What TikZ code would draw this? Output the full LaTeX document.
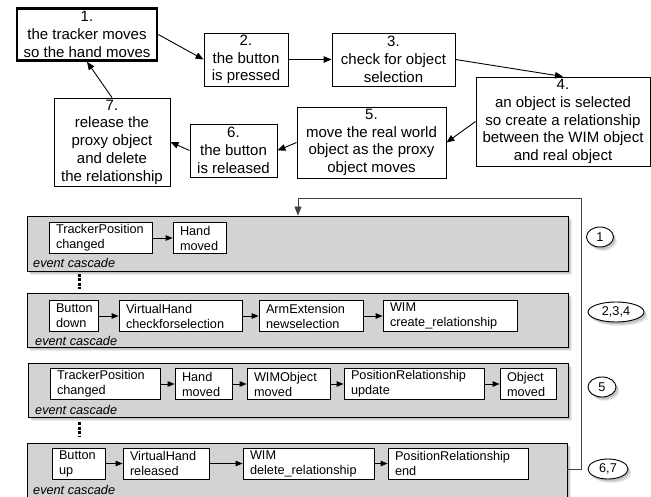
\documentclass[tikz,border=0pt]{standalone}
\usepackage{fontspec}
\setmainfont{Liberation Sans}
\usetikzlibrary{arrows.meta,shadows,shapes.geometric}
\definecolor{panelgray}{HTML}{D3D3D3}
\tikzset{
  arr/.style={-{Triangle[length=8pt,width=6.5pt]}, line width=0.9pt},
  sarr/.style={-{Triangle[length=7pt,width=5.5pt]}, line width=0.9pt},
  topbox/.style={draw, line width=0.9pt, fill=white, align=center, inner sep=0pt,
    font=\fontsize{15}{17.7}\selectfont},
  softshadow/.style={
    drop shadow={shadow xshift=3.5pt, shadow yshift=-4pt, opacity=0.15},
    drop shadow={shadow xshift=2.5pt, shadow yshift=-3pt, opacity=0.2},
    drop shadow={shadow xshift=1.5pt, shadow yshift=-2pt, opacity=0.25}},
  panel/.style={draw, line width=0.9pt, fill=panelgray, inner sep=0pt, softshadow},
  ibox/.style={draw, line width=0.8pt, fill=white, inner xsep=7pt, inner ysep=0pt,
    align=left, font=\fontsize{12.7}{15}\selectfont, minimum height=31pt},
  ecas/.style={anchor=west, inner sep=0pt, font=\fontsize{12.7}{15}\selectfont\itshape},
  lbl/.style={ellipse, draw, line width=0.9pt, fill=white, inner sep=0pt,
    minimum height=20pt, font=\fontsize{12.7}{15}\selectfont, softshadow},
  dotsline/.style={line width=3pt, dash pattern=on 3pt off 1.5pt},
  fb/.style={line width=0.9pt, draw=black!75}
}
\begin{document}
\begin{tikzpicture}[x=1pt,y=-1pt]
\clip (0,0) rectangle (651,497);
\fill[white] (0,0) rectangle (651,497);
% top cycle
\node[topbox, line width=2.6pt, minimum width=140pt, minimum height=52pt] (b1) at (87,34.5) {1.\\the tracker moves\\so the hand moves};
\node[topbox, minimum width=84pt, minimum height=53pt] (b2) at (246,59.5) {2.\\the button\\is pressed};
\node[topbox, minimum width=123pt, minimum height=53pt] (b3) at (393.5,59.5) {3.\\check for object\\selection};
\node[topbox, minimum width=174pt, minimum height=89pt] (b4) at (563,121.5) {4.\\an object is selected\\so create a relationship\\between the WIM object\\and real object};
\node[topbox, minimum width=149pt, minimum height=71pt] (b5) at (371.5,142.5) {5.\\move the real world\\object as the proxy\\object moves};
\node[topbox, minimum width=87pt, minimum height=53pt] (b6) at (233.5,150.5) {6.\\the button\\is released};
\node[topbox, minimum width=116pt, minimum height=88pt] (b7) at (112,142) {7.\\release the\\proxy object\\and delete\\the relationship};
\draw[arr] (b1.east) -- (b2.west);
\draw[arr] (b2.east) -- (b3.west);
\draw[arr] (b3.east) -- (b4.north);
\draw[arr] (b4.west) -- (b5.east);
\draw[arr] (b5.west) -- (b6.east);
\draw[arr] (b6.west) -- (b7.east);
\draw[arr] (b7.north) -- (b1.south);
% panels
\node[panel, minimum width=541pt, minimum height=55pt] (p1) at (297.5,243.5) {};
\node[panel, minimum width=541pt, minimum height=54pt] (p2) at (297.5,320) {};
\node[panel, minimum width=540pt, minimum height=54pt] (p3) at (298,390) {};
\node[panel, minimum width=540pt, minimum height=56pt] (p4) at (297,471) {};
% panel 1
\node[ibox, minimum width=103pt, text width=89pt] (a1) at (100.5,238) {TrackerPosition\\changed};
\node[ibox, minimum width=53pt, text width=39pt] (a2) at (199.5,238) {Hand\\moved};
\draw[sarr] (a1) -- (a2);
\node[ecas] (e1) at (33,263) {event cascade};
% dots
\draw[dotsline] (79,274) -- (79,289);
% panel 2
\node[ibox, minimum width=49pt, text width=35pt] (c1) at (73.5,316) {Button\\down};
\node[ibox, minimum width=123pt, text width=109pt] (c2) at (180.5,316) {VirtualHand\\checkforselection};
\node[ibox, minimum width=104pt, text width=90pt] (c3) at (311,316) {ArmExtension\\newselection};
\node[ibox, minimum width=134pt, text width=120pt] (c4) at (450,316) {WIM\\create\_relationship};
\draw[sarr] (c1) -- (c2);
\draw[sarr] (c2) -- (c3);
\draw[sarr] (c3) -- (c4);
\node[ecas] (e2) at (35,341) {event cascade};
% panel 3
\node[ibox, minimum width=110pt, text width=96pt] (d1) at (105,384) {TrackerPosition\\changed};
\node[ibox, minimum width=57pt, text width=43pt] (d2) at (203.5,384) {Hand\\moved};
\node[ibox, minimum width=83pt, text width=69pt] (d3) at (288.5,384) {WIMObject\\moved};
\node[ibox, minimum width=140pt, text width=126pt] (d4) at (414,384) {PositionRelationship\\update};
\node[ibox, minimum width=56pt, text width=42pt] (d5) at (528,384) {Object\\moved};
\draw[sarr] (d1) -- (d2);
\draw[sarr] (d2) -- (d3);
\draw[sarr] (d3) -- (d4);
\draw[sarr] (d4) -- (d5);
\node[ecas] (e3) at (35,410) {event cascade};
% dots
\draw[dotsline] (79,422) -- (79,437);
% panel 4
\node[ibox, minimum width=53pt, text width=39pt] (f1) at (78.5,463.5) {Button\\up};
\node[ibox, minimum width=86pt, text width=72pt] (f2) at (166,463.5) {VirtualHand\\released};
\node[ibox, minimum width=131pt, text width=117pt] (f3) at (308.5,463.5) {WIM\\delete\_relationship};
\node[ibox, minimum width=140pt, text width=126pt] (f4) at (458,463.5) {PositionRelationship\\end};
\draw[sarr] (f1) -- (f2);
\draw[sarr] (f2) -- (f3);
\draw[sarr] (f3) -- (f4);
\node[ecas] (e4) at (33,490) {event cascade};
% step labels
\node[lbl, minimum width=27pt] (l1) at (600,237) {1};
\node[lbl, minimum width=56pt] (l2) at (616,312) {2,3,4};
\node[lbl, minimum width=28pt] (l3) at (602,387) {5};
\node[lbl, minimum width=40pt] (l4) at (608,469) {6,7};
% feedback line
\coordinate (k1) at (581,469);
\coordinate (k2) at (581,198);
\coordinate (k3) at (298,198);
\draw[fb] (p4.east |- k1) -- (k1) -- (k2) -- (k3);
\draw[fb, -{Triangle[length=9pt,width=7pt]}] (k3) -- (k3 |- p1.north);
\end{tikzpicture}
\end{document}
